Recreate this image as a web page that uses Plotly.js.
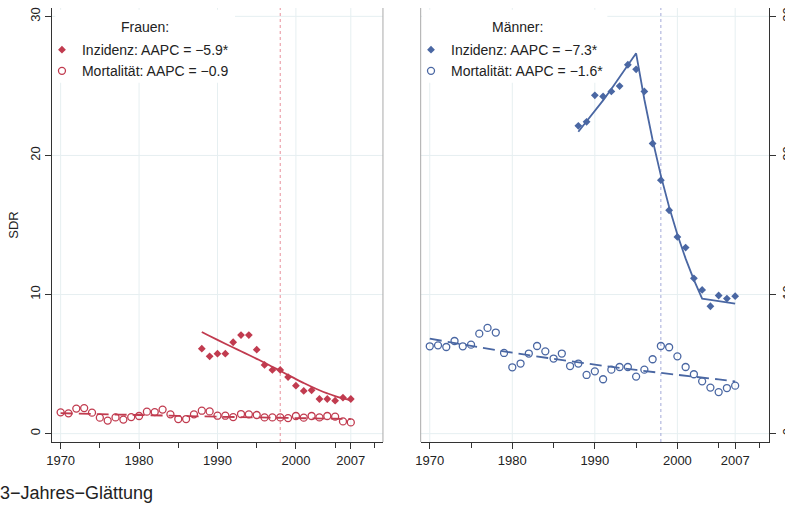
<!DOCTYPE html>
<html><head><meta charset="utf-8">
<script src="https://cdn.plot.ly/plotly-3.0.1.min.js"></script>
<style>html,body{margin:0;padding:0;background:#fff}#chart{width:785px;height:506px}</style>
</head><body><div id="chart"></div>
<script>
// ---- data ----
const years = [1970,1971,1972,1973,1974,1975,1976,1977,1978,1979,1980,1981,1982,1983,1984,1985,1986,1987,1988,1989,1990,1991,1992,1993,1994,1995,1996,1997,1998,1999,2000,2001,2002,2003,2004,2005,2006,2007];
const incYears = [1988,1989,1990,1991,1992,1993,1994,1995,1996,1997,1998,1999,2000,2001,2002,2003,2004,2005,2006,2007];
const trendYears = [1970,1975,1980,1985,1990,1995,2000,2005,2007];

const frauenInz = [6.11,5.56,5.75,5.75,6.57,7.09,7.09,6.04,4.94,4.58,4.58,4.07,3.45,3.07,3.12,2.49,2.49,2.37,2.59,2.49];
const frauenInzFit = [7.31,7.02,6.74,6.46,6.19,5.92,5.65,5.38,5.10,4.81,4.52,4.22,3.92,3.64,3.37,3.12,2.90,2.70,2.54,2.40];
const frauenMort = [1.53,1.46,1.80,1.84,1.51,1.15,0.94,1.17,1.01,1.19,1.27,1.58,1.55,1.73,1.39,1.05,1.05,1.39,1.65,1.60,1.29,1.29,1.19,1.41,1.39,1.34,1.17,1.17,1.17,1.12,1.27,1.15,1.27,1.17,1.27,1.22,0.88,0.81];
const frauenMortTrend = [1.47,1.40,1.34,1.28,1.22,1.17,1.12,1.07,1.05];

const maennerInz = [22.13,22.42,24.32,24.24,24.60,24.99,26.52,26.19,24.60,20.86,18.22,16.06,14.14,13.38,11.17,10.33,9.16,9.93,9.71,9.88];
const maennerInzFit = [21.70,22.43,23.18,23.96,24.77,25.60,26.46,27.34,24.02,21.11,18.55,16.30,14.32,12.58,11.06,9.71,9.62,9.53,9.44,9.35];
const maennerMort = [6.28,6.35,6.23,6.66,6.28,6.40,7.19,7.60,7.27,5.80,4.77,5.04,5.76,6.30,5.92,5.40,5.76,4.86,5.04,4.22,4.48,3.91,4.60,4.79,4.79,4.10,4.60,5.35,6.30,6.21,5.56,4.79,4.27,3.76,3.31,2.99,3.28,3.45];
const maennerMortTrend = [6.83,6.31,5.82,5.38,4.96,4.58,4.23,3.90,3.76];

const xTickVals = [1970,1980,1990,2000,2007];
const xTickText = ['1970','1980','1990','2000','2007'];
const xMinorVals = [1975,1985,1995,2005,2010];
const yTickVals = [0,10,20,30];
const markYear = 1998;

const RED = '#c13b4f';
const BLUE = '#4a67a3';
const GRID = '#e6eff1';
const FONT = 'Liberation Sans, Arial, sans-serif';

const traces = [
  {x: incYears, y: frauenInzFit, mode:'lines', line:{color:RED, width:1.8, shape:'spline'}, xaxis:'x', yaxis:'y', showlegend:false, hoverinfo:'skip'},
  {x: trendYears, y: frauenMortTrend, mode:'lines', line:{color:RED, width:1.8, dash:'12px,6px', shape:'spline'}, xaxis:'x', yaxis:'y', showlegend:false, hoverinfo:'skip'},
  {x: incYears, y: frauenInz, mode:'markers', name:'Inzidenz: AAPC = \u22125.9*', marker:{symbol:'diamond', size:6, color:RED}, xaxis:'x', yaxis:'y', legend:'legend'},
  {x: years, y: frauenMort, mode:'markers', name:'Mortalit\u00e4t: AAPC = \u22120.9', marker:{symbol:'circle-open', size:7, color:RED, line:{width:1.3, color:RED}}, xaxis:'x', yaxis:'y', legend:'legend'},

  {x: incYears, y: maennerInzFit, mode:'lines', line:{color:BLUE, width:1.8}, xaxis:'x2', yaxis:'y2', showlegend:false, hoverinfo:'skip'},
  {x: trendYears, y: maennerMortTrend, mode:'lines', line:{color:BLUE, width:1.8, dash:'12px,6px', shape:'spline'}, xaxis:'x2', yaxis:'y2', showlegend:false, hoverinfo:'skip'},
  {x: incYears, y: maennerInz, mode:'markers', name:'Inzidenz: AAPC = \u22127.3*', marker:{symbol:'diamond', size:6, color:BLUE}, xaxis:'x2', yaxis:'y2', legend:'legend2'},
  {x: years, y: maennerMort, mode:'markers', name:'Mortalit\u00e4t: AAPC = \u22121.6*', marker:{symbol:'circle-open', size:7, color:BLUE, line:{width:1.3, color:BLUE}}, xaxis:'x2', yaxis:'y2', legend:'legend2'}
];

function xAxis(domain, anchor){
  return {domain: domain, anchor: anchor, range:[1968.9, 2011.1], tickmode:'array', tickvals:xTickVals, ticktext:xTickText,
    ticks:'outside', ticklen:6, tickcolor:'#333', showline:true, linecolor:'#333', linewidth:1,
    showgrid:false, zeroline:false,
    minor:{tickvals:xMinorVals, ticks:'outside', ticklen:5, tickcolor:'#333', showgrid:false},
    tickfont:{size:13, color:'#222'}};
}
function yAxis(anchor, side, title){
  const a = {anchor: anchor, side: side, domain:[0,1], range:[-0.6, 30.6], tickmode:'array', tickvals:yTickVals,
    tickangle:-90, ticks:'outside', ticklen:6, tickcolor:'#333', showline:true, linecolor:'#333', linewidth:1,
    showgrid:false, zeroline:false, tickfont:{size:13, color:'#222'}};
  if (title) a.title = {text:title, standoff:6, font:{size:13, color:'#222'}};
  return a;
}

// grid lines (drawn as shapes so the legend boxes can hide them)
const shapes = [];
[['x','y'],['x2','y2']].forEach(([xa, ya]) => {
  xTickVals.forEach(v => shapes.push({type:'line', xref:xa, yref:ya+' domain', x0:v, x1:v, y0:0, y1:1, line:{color:GRID, width:1}, layer:'below'}));
  yTickVals.forEach(v => shapes.push({type:'line', xref:xa+' domain', yref:ya, x0:0, x1:1, y0:v, y1:v, line:{color:GRID, width:1}, layer:'below'}));
});
shapes.push(
  {type:'rect', xref:'x domain', yref:'y domain', x0:0.01, x1:0.553, y0:0.828, y1:0.996, fillcolor:'#fff', line:{width:0}, layer:'below'},
  {type:'rect', xref:'x2 domain', yref:'y2 domain', x0:0.004, x1:0.536, y0:0.828, y1:0.996, fillcolor:'#fff', line:{width:0}, layer:'below'},
  {type:'line', xref:'x', yref:'y domain', x0:markYear, x1:markYear, y0:0, y1:1, line:{color:'#e8909c', width:1, dash:'dot'}, layer:'below'},
  {type:'line', xref:'x2', yref:'y2 domain', x0:markYear, x1:markYear, y0:0, y1:1, line:{color:'#a3a9d8', width:1, dash:'dot'}, layer:'below'},
  {type:'line', xref:'x domain', yref:'y domain', x0:1, x1:1, y0:0, y1:1, line:{color:'#aaa', width:1}},
  {type:'line', xref:'x2 domain', yref:'y2 domain', x0:0, x1:0, y0:0, y1:1, line:{color:'#aaa', width:1}}
);

const legendBase = {xanchor:'left', yanchor:'top', y:0.94, bgcolor:'rgba(0,0,0,0)', borderwidth:0,
  font:{size:14, color:'#222', family:FONT}, tracegroupgap:0, itemclick:false, itemdoubleclick:false};

const layout = {
  width:785, height:506,
  margin:{l:52, r:16, t:8, b:64},
  paper_bgcolor:'#fff', plot_bgcolor:'#fff',
  font:{family:FONT, size:13, color:'#222'},
  xaxis: xAxis([0, 0.4616], 'y'),
  yaxis: yAxis('x', 'left', 'SDR'),
  xaxis2: xAxis([0.5142, 1], 'y2'),
  yaxis2: yAxis('x2', 'right', null),
  legend: Object.assign({}, legendBase, {x:-0.014}),
  legend2: Object.assign({}, legendBase, {x:0.5007}),
  shapes: shapes,
  annotations:[
    {text:'Frauen:', xref:'paper', yref:'paper', x:(145-52)/717, y:(442-27)/434, xanchor:'center', yanchor:'middle', showarrow:false, font:{size:14, color:'#222'}},
    {text:'M\u00e4nner:', xref:'paper', yref:'paper', x:(517-52)/717, y:(442-27)/434, xanchor:'center', yanchor:'middle', showarrow:false, font:{size:14, color:'#222'}},
    {text:'3\u2212Jahres\u2212Gl\u00e4ttung', xref:'paper', yref:'paper', x:(-2-52)/717, y:(442-493)/434, xanchor:'left', yanchor:'middle', showarrow:false, font:{size:18, color:'#222'}}
  ]
};

Plotly.newPlot('chart', traces, layout, {displayModeBar:false, staticPlot:true});
</script>
</body></html>
